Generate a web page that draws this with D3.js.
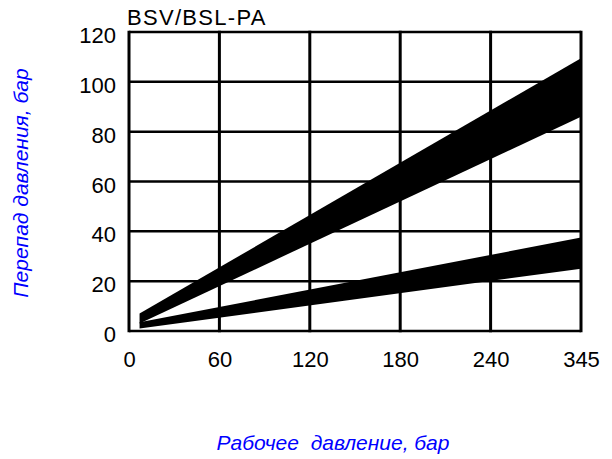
<!DOCTYPE html>
<html>
<head>
<meta charset="utf-8">
<script src="https://cdn.jsdelivr.net/npm/d3@7/dist/d3.min.js"></script>
<style>
  html, body { margin: 0; padding: 0; background: #fff; }
  svg { display: block; }
  text { font-family: "Liberation Sans", Arial, sans-serif; }
</style>
</head>
<body>
<svg id="chart" width="612" height="459"></svg>
<script>
// ---- data ----
const xTicks = [0, 60, 120, 180, 240, 345];
const yTicks = [0, 20, 40, 60, 80, 100, 120];
const bandX = [7, 345];
const upperLow = [3, 86];
const upperHigh = [7, 109.5];
const lowerLow = [1, 25];
const lowerHigh = [3.5, 37.5];
const chartTitle = "BSV/BSL-PA";
const xTitle = "Рабочее  давление, бар";
const yTitle = "Перепад давления, бар";

// ---- layout ----
const plotL = 129, plotR = 581, plotT = 32, plotB = 331;
const svg = d3.select("#chart");

const step = (plotR - plotL) / (xTicks.length - 1);
const x = d3.scaleLinear()
  .domain(xTicks)
  .range(xTicks.map((d, i) => plotL + i * step));
const y = d3.scaleLinear().domain([0, 120]).range([plotB, plotT]);

// grid
svg.append("g").selectAll("line").data(yTicks).join("line")
  .attr("x1", plotL).attr("x2", plotR)
  .attr("y1", d => y(d)).attr("y2", d => y(d))
  .attr("stroke", "#000").attr("stroke-width", 2.5);
svg.append("g").selectAll("line").data(xTicks).join("line")
  .attr("x1", d => x(d)).attr("x2", d => x(d))
  .attr("y1", plotT - 1.25).attr("y2", plotB + 1.25)
  .attr("stroke", "#000").attr("stroke-width", 3);

// bands
function band(lo, hi) {
  const pts = bandX.map((d, i) => ({x: d, lo: lo[i], hi: hi[i]}));
  return d3.area().x(d => x(d.x)).y0(d => y(d.lo)).y1(d => y(d.hi))(pts);
}
svg.append("path").attr("d", band(upperLow, upperHigh)).attr("fill", "#000");
svg.append("path").attr("d", band(lowerLow, lowerHigh)).attr("fill", "#000");

// axes labels
const xAxis = d3.axisBottom(x).tickValues(xTicks).tickSize(0).tickPadding(20.5).tickFormat(d3.format("d"));
const gx = svg.append("g").attr("transform", `translate(0,${plotB})`).call(xAxis);
gx.select(".domain").remove();
gx.selectAll("text").attr("font-size", 22).attr("fill", "#000")
  .attr("font-family", "Liberation Sans, Arial, sans-serif");

const yAxis = d3.axisLeft(y).tickValues(yTicks).tickSize(0).tickPadding(13);
const gy = svg.append("g").attr("transform", `translate(${plotL},0)`).call(yAxis);
gy.select(".domain").remove();
gy.selectAll("text").attr("font-size", 22).attr("fill", "#000").attr("dy", "0.48em")
  .attr("font-family", "Liberation Sans, Arial, sans-serif");

// title
svg.append("text").attr("x", 127).attr("y", 25)
  .attr("font-size", 22).attr("letter-spacing", 1.3).attr("fill", "#000")
  .text(chartTitle);

// axis titles
svg.append("text").attr("x", 333).attr("y", 450)
  .attr("text-anchor", "middle").attr("font-size", 21)
  .attr("font-style", "italic").attr("fill", "#0000ff")
  .style("white-space", "pre")
  .text(xTitle);
svg.append("text")
  .attr("transform", "translate(28,183) rotate(-90)")
  .attr("text-anchor", "middle").attr("font-size", 21)
  .attr("font-style", "italic").attr("fill", "#0000ff")
  .text(yTitle);
</script>
</body>
</html>
